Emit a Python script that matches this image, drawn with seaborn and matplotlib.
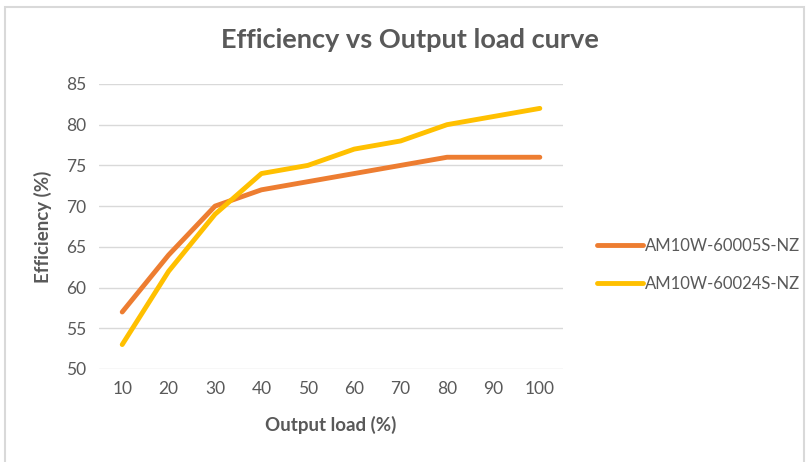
import pandas as pd
import matplotlib
matplotlib.use("Agg")
import matplotlib.pyplot as plt
import seaborn as sns
from matplotlib.patches import Rectangle

load = ['10', '20', '30', '40', '50', '60', '70', '80', '90', '100']
eff_05 = [57, 64, 70, 72, 73, 74, 75, 76, 76, 76]
eff_24 = [53, 62, 69, 74, 75, 77, 78, 80, 81, 82]
names = ['AM10W-60005S-NZ', 'AM10W-60024S-NZ']

df = pd.DataFrame({
    'load': load * 2,
    'eff': eff_05 + eff_24,
    'model': [names[0]] * len(load) + [names[1]] * len(load),
})

sns.set_style('white')
plt.rcParams['font.family'] = ['Lato', 'DejaVu Sans']

fig = plt.figure(figsize=(8.07, 4.62), dpi=100)
ax = fig.add_axes([0.1227, 0.2013, 0.575, 0.617])

sns.lineplot(data=df, x='load', y='eff', hue='model', sort=False,
             palette=['#ED7D31', '#FFC000'], linewidth=3.5, ax=ax)
for ln in ax.get_lines():
    ln.set_solid_capstyle('round')
    ln.set_solid_joinstyle('round')

ax.set_xlim(-0.5, len(load) - 0.5)
ax.set_ylim(50, 85)
ax.set_yticks(range(50, 86, 5))
ax.yaxis.grid(True, color='#D9D9D9', linewidth=1)
ax.set_axisbelow(True)
for s in ax.spines.values():
    s.set_visible(False)
ax.tick_params(axis='both', length=0, labelsize=12.5, labelcolor='#595959', pad=9)
ax.set_xlabel('Output load (%)', fontsize=13.5, fontweight='bold', color='#595959')
ax.set_ylabel('Efficiency (%)', fontsize=13.5, fontweight='bold', color='#595959')
ax.xaxis.label.set_va('center')
ax.yaxis.label.set_va('center')
ax.xaxis.set_label_coords(0.5, -0.196)
ax.yaxis.set_label_coords(-0.12, 0.5)

fig.text(0.508, 0.913, 'Efficiency vs Output load curve', ha='center', va='center',
         fontsize=19.5, fontweight='bold', color='#595959')

leg = ax.legend(loc='center left', bbox_to_anchor=(1.04, 0.365), frameon=False,
                fontsize=12, handlelength=2.8, handletextpad=0.1, labelspacing=1.3)
for t in leg.get_texts():
    t.set_color('#595959')
for h in leg.get_lines():
    h.set_solid_capstyle('round')

fig.patches.append(Rectangle((0.006, -0.02), 0.99, 1.005, transform=fig.transFigure,
                             fill=False, edgecolor='#D9D9D9', linewidth=1.5))

fig.savefig('out.png', dpi=100)
